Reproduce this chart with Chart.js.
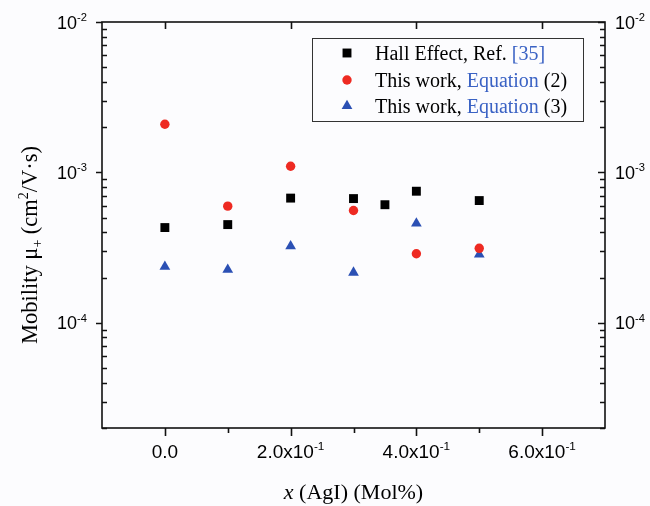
<!DOCTYPE html>
<html>
<head>
<meta charset="utf-8">
<script src="https://cdn.jsdelivr.net/npm/chart.js@4/dist/chart.umd.min.js"></script>
<style>
html,body{margin:0;padding:0;background:#fcfcfe;}
canvas{display:block;}
</style>
</head>
<body>
<canvas id="c" width="650" height="506"></canvas>
<script>
// ---- data ----
const hallX = [0.0, 0.1, 0.2, 0.3, 0.35, 0.4, 0.5];
const hallY = [4.3e-4, 4.5e-4, 6.75e-4, 6.7e-4, 6.1e-4, 7.5e-4, 6.5e-4];
const eqX = [0.0, 0.1, 0.2, 0.3, 0.4, 0.5];
const eq2Y = [2.09e-3, 5.97e-4, 1.10e-3, 5.58e-4, 2.88e-4, 3.13e-4];
const eq3Y = [2.36e-4, 2.26e-4, 3.23e-4, 2.16e-4, 4.58e-4, 2.85e-4];

const seriesNames = [
  [{t:'Hall Effect, Ref. '},{t:'[35]',c:'blue'}],
  [{t:'This work, '},{t:'Equation',c:'blue'},{t:' (2)'}],
  [{t:'This work, '},{t:'Equation',c:'blue'},{t:' (3)'}]
];
const xMajorTicks = [0.0, 0.2, 0.4, 0.6];
const xMinorTicks = [0.1, 0.3, 0.5];
const xTickLabels = [['0.0',''],['2.0x10','-1'],['4.0x10','-1'],['6.0x10','-1']];
const yMajorTicks = [1e-4, 1e-3, 1e-2];
const yTickLabels = [['10','-4'],['10','-3'],['10','-2']];
const xRange = [-0.1, 0.7];
const yRange = [2e-5, 1e-2];

const BLACK = '#000000', RED = '#ee2a22', BLUE = '#2b50b4', LINKBLUE = '#3a62c4';
const SANS = '"Liberation Sans", Arial, sans-serif';
const SERIF = '"Liberation Serif", "Times New Roman", serif';

function pts(xs, ys){ return xs.map((x,i)=>({x:x, y:ys[i]})); }

function richWidth(ctx, parts, size, fam){
  let w = 0;
  for (const p of parts){
    const s = (p.s==='sup'||p.s==='sub') ? size*0.62 : size;
    ctx.font = (p.s==='i'?'italic ':'') + s + 'px ' + fam;
    w += ctx.measureText(p.t).width;
  }
  return w;
}
function drawRich(ctx, parts, x, y, size, fam, align, color){
  const w = richWidth(ctx, parts, size, fam);
  let cx = align==='center' ? x - w/2 : (align==='right' ? x - w : x);
  ctx.textAlign = 'left';
  ctx.textBaseline = 'alphabetic';
  for (const p of parts){
    const s = (p.s==='sup'||p.s==='sub') ? size*0.62 : size;
    ctx.font = (p.s==='i'?'italic ':'') + s + 'px ' + fam;
    let dy = 0;
    if (p.s==='sup') dy = -size*0.42;
    if (p.s==='sub') dy = size*0.22;
    ctx.fillStyle = p.c==='blue' ? LINKBLUE : (color||BLACK);
    ctx.fillText(p.t, cx, y + dy);
    cx += ctx.measureText(p.t).width;
  }
}
function drawMarker(ctx, style, x, y, r, color){
  ctx.fillStyle = color;
  ctx.beginPath();
  if (style==='rect'){ const s = r*Math.SQRT1_2; ctx.rect(x-s,y-s,2*s,2*s); }
  else if (style==='circle'){ ctx.arc(x,y,r,0,Math.PI*2); }
  else { ctx.moveTo(x, y-r); ctx.lineTo(x+r*Math.sin(Math.PI/3), y+r/2); ctx.lineTo(x-r*Math.sin(Math.PI/3), y+r/2); ctx.closePath(); }
  ctx.fill();
}

const markerDefs = [['rect',6.3,BLACK],['circle',4.7,RED],['triangle',6.2,BLUE]];

const decor = {
  id:'decor',
  beforeDraw(chart){
    const ctx = chart.ctx;
    ctx.save(); ctx.fillStyle = '#fcfcfe'; ctx.fillRect(0,0,chart.width,chart.height); ctx.restore();
  },
  afterDraw(chart){
    const ctx = chart.ctx, a = chart.chartArea;
    const xs = chart.scales.x, ys = chart.scales.y, ys2 = chart.scales.y2;
    ctx.save();
    ctx.strokeStyle = '#111'; ctx.lineWidth = 1.6;
    ctx.strokeRect(a.left, a.top, a.right-a.left, a.bottom-a.top);
    ctx.beginPath();
    for (const v of xMajorTicks){
      const px = Math.round(xs.getPixelForValue(v))+0.5;
      ctx.moveTo(px, a.bottom); ctx.lineTo(px, a.bottom+8);
      ctx.moveTo(px, a.top); ctx.lineTo(px, a.top+7);
    }
    for (const v of xMinorTicks){
      const px = Math.round(xs.getPixelForValue(v))+0.5;
      ctx.moveTo(px, a.bottom); ctx.lineTo(px, a.bottom+5);
    }
    for (let e = -5; e <= -2; e++){
      for (let m = 1; m <= 9; m++){
        const v = m*Math.pow(10,e);
        if (v < yRange[0]*0.999 || v > yRange[1]*1.001) continue;
        const py = Math.round(ys.getPixelForValue(v))+0.5;
        const py2 = Math.round(ys2.getPixelForValue(v))+0.5;
        if (m===1){
          ctx.moveTo(a.left-6, py); ctx.lineTo(a.left, py);
          ctx.moveTo(a.right, py2); ctx.lineTo(a.right-7, py2);
        } else {
          ctx.moveTo(a.left, py); ctx.lineTo(a.left+5, py);
          ctx.moveTo(a.right, py2); ctx.lineTo(a.right-5, py2);
        }
      }
    }
    ctx.stroke();
    xMajorTicks.forEach((v,i)=>{
      const px = xs.getPixelForValue(v);
      const parts = [{t:xTickLabels[i][0]}];
      if (xTickLabels[i][1]) parts.push({t:xTickLabels[i][1], s:'sup'});
      drawRich(ctx, parts, px, a.bottom+30, 19, SANS, 'center');
    });
    yMajorTicks.forEach((v,i)=>{
      const py = ys.getPixelForValue(v);
      const parts = [{t:yTickLabels[i][0]},{t:yTickLabels[i][1], s:'sup'}];
      drawRich(ctx, parts, a.left-15, py+6.5, 18, SANS, 'right');
      const py2 = ys2.getPixelForValue(v);
      drawRich(ctx, parts, a.right+10, py2+6.5, 18, SANS, 'left');
    });
    drawRich(ctx, [{t:'x', s:'i'},{t:' (AgI) (Mol%)'}], (a.left+a.right)/2, 499, 22, SERIF, 'center');
    ctx.save();
    ctx.translate(37, 245);
    ctx.rotate(-Math.PI/2);
    drawRich(ctx, [{t:'Mobility μ'},{t:'+',s:'sub'},{t:' (cm'},{t:'2',s:'sup'},{t:'/V·s)'}], 0, 0, 22.5, SERIF, 'center');
    ctx.restore();
    ctx.lineWidth = 1; ctx.strokeStyle = '#333';
    ctx.strokeRect(312.5, 38.5, 271, 83);
    const rows = [53, 80, 106];
    rows.forEach((ry,i)=>{
      const md = markerDefs[i];
      drawMarker(ctx, md[0], 347, ry, md[1], md[2]);
      drawRich(ctx, seriesNames[i], 375, ry+6.5, 20, SERIF, 'left');
    });
    ctx.restore();
  }
};

new Chart(document.getElementById('c'), {
  type: 'scatter',
  data: {
    datasets: [
      {label:'Hall Effect, Ref. [35]', data: pts(hallX, hallY), pointStyle:'rect', pointRadius:6.3, backgroundColor:BLACK, borderWidth:0},
      {label:'This work, Equation (2)', data: pts(eqX, eq2Y), pointStyle:'circle', pointRadius:4.7, backgroundColor:RED, borderWidth:0},
      {label:'This work, Equation (3)', data: pts(eqX, eq3Y), pointStyle:'triangle', pointRadius:6.2, backgroundColor:BLUE, borderWidth:0}
    ]
  },
  options: {
    responsive:false, animation:false,
    layout:{padding:{top:22, left:0, right:0, bottom:0}},
    plugins:{legend:{display:false}, tooltip:{enabled:false}},
    scales:{
      x:{type:'linear', min:xRange[0], max:xRange[1], grid:{display:false}, border:{display:false}, ticks:{display:false}, afterFit:s=>{s.height=78;}},
      y:{type:'logarithmic', position:'left', min:yRange[0], max:yRange[1], grid:{display:false}, border:{display:false}, ticks:{display:false}, afterFit:s=>{s.width=102;}},
      y2:{type:'logarithmic', position:'right', min:yRange[0], max:yRange[1], grid:{display:false}, border:{display:false}, ticks:{display:false}, afterFit:s=>{s.width=45;}}
    }
  },
  plugins:[decor]
});
</script>
</body>
</html>
